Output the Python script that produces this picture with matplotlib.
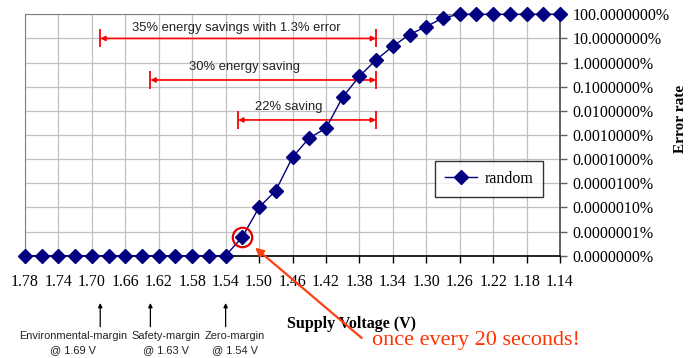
import matplotlib
matplotlib.use("Agg")
import matplotlib.pyplot as plt
import numpy as np
from matplotlib.ticker import FixedLocator, FuncFormatter

# supply voltage sweep and measured error rate (percent)
volts = [1.78, 1.76, 1.74, 1.72, 1.70, 1.68, 1.66, 1.64, 1.62, 1.60, 1.58,
         1.56, 1.54, 1.52, 1.50, 1.48, 1.46, 1.44, 1.42, 1.40, 1.38, 1.36,
         1.34, 1.32, 1.30, 1.28, 1.26, 1.24, 1.22, 1.20, 1.18, 1.16, 1.14]
err_pct = [0, 0, 0, 0, 0, 0, 0, 0, 0, 0, 0, 0, 0,
           6e-8, 1e-6, 5e-6, 1.2e-4, 7.5e-4, 1.9e-3, 0.037, 0.27, 1.3,
           4.7, 14.5, 31, 71, 100, 100, 100, 100, 100, 100, 100]

x_ticks = [1.78, 1.74, 1.70, 1.66, 1.62, 1.58, 1.54, 1.50, 1.46, 1.42,
           1.38, 1.34, 1.30, 1.26, 1.22, 1.18, 1.14]
y_ticks = [1e-8, 1e-7, 1e-6, 1e-5, 1e-4, 1e-3, 1e-2, 1e-1, 1, 10, 100]

# savings spans: (label, left V, right V, arrow level %, label V, label level %)
span_labels = ["35% energy savings with 1.3% error", "30% energy saving", "22% saving"]
span_left = [1.69, 1.63, 1.525]
span_right = [1.36, 1.36, 1.36]
span_level = [10, 0.19, 0.0042]
span_text_x = [1.5276, 1.517, 1.4644]
span_text_y = [27, 0.68, 0.0145]

margin_names = ["Environmental-margin\n@ 1.69 V", "Safety-margin\n@ 1.63 V", "Zero-margin\n@ 1.54 V"]
margin_volts = [1.69, 1.63, 1.54]
margin_text_x = [1.7226, 1.611, 1.529]

floor = 1e-8
err_plot = np.maximum(np.array(err_pct), floor)

serif = ["Liberation Serif", "DejaVu Serif"]
narrow = ["Liberation Sans Narrow", "Liberation Sans", "DejaVu Sans"]

fig = plt.figure(figsize=(6.94, 3.58), dpi=100)
ax = fig.add_axes([25 / 694, (358 - 255.7) / 358, 535 / 694, (255.7 - 14.3) / 358])

ax.plot(volts, err_plot, color="#000080", lw=1.0, marker="D", markersize=7,
        markerfacecolor="#000080", markeredgecolor="#000080", label="random",
        zorder=4, clip_on=False)

ax.set_yscale("log")
ax.set_ylim(floor, 100)
ax.set_xlim(1.78, 1.14)
ax.xaxis.set_major_locator(FixedLocator(x_ticks))
ax.xaxis.set_major_formatter(FuncFormatter(lambda v, p: f"{v:.2f}"))
ax.yaxis.set_major_locator(FixedLocator(y_ticks))
ax.yaxis.set_minor_locator(FixedLocator([]))
ax.yaxis.set_major_formatter(FuncFormatter(lambda v, p: f"{v:.7f}%"))
ax.yaxis.tick_right()

ax.grid(True, color="#c0c0c0", lw=0.9)
ax.set_axisbelow(True)

for lab in ax.get_xticklabels() + ax.get_yticklabels():
    lab.set_family(serif)
    lab.set_fontsize(11.5)
ax.tick_params(axis="x", direction="out", length=5, width=1, pad=8, color="black")
ax.tick_params(axis="y", direction="out", length=5, width=1, pad=4, color="#606060")

ax.spines["left"].set_color("#808080")
ax.spines["top"].set_color("#808080")
ax.spines["right"].set_color("#606060")
ax.spines["right"].set_linewidth(1.4)
ax.spines["bottom"].set_color("black")
ax.spines["bottom"].set_linewidth(1.2)

# red savings arrows
for lab, x0, x1, lv, tx, ty in zip(span_labels, span_left, span_right, span_level,
                                    span_text_x, span_text_y):
    ax.annotate("", xy=(x0, lv), xytext=(x1, lv),
                arrowprops=dict(arrowstyle="<|-|>", color="red", lw=1.2,
                                mutation_scale=7, shrinkA=0, shrinkB=0))
    ax.plot([x0, x1], [lv, lv], ls="none", marker="|", markersize=13,
            markeredgewidth=1.3, color="red", zorder=5)
    ax.text(tx, ty, lab, family=narrow, fontsize=9.4, color="#222222",
            ha="center", va="center")

# margin markers under the axis
xtrans = ax.get_xaxis_transform()
for name, mv, tx in zip(margin_names, margin_volts, margin_text_x):
    ax.annotate("", xy=(mv, -0.196), xytext=(mv, -0.294), xycoords=xtrans,
                textcoords=xtrans, annotation_clip=False,
                arrowprops=dict(arrowstyle="-|>", color="black", lw=0.9,
                                mutation_scale=6, shrinkA=0, shrinkB=0))
    ax.text(tx, -0.362, name, transform=xtrans, family=narrow, fontsize=7.9,
            color="#222222", ha="center", va="center", linespacing=1.45)

# highlight the first non-zero error
hx, hy = volts[13], err_plot[13]
ax.plot([hx], [hy], ls="none", marker="o", markersize=14, fillstyle="none",
        markeredgecolor="#e00000", markeredgewidth=1.6, zorder=6, clip_on=False)
ax.annotate("", xy=(hx, hy), xytext=(361.7, 358 - 338), textcoords="figure pixels",
            annotation_clip=False,
            arrowprops=dict(arrowstyle="-|>", color="#ff4010", lw=1.6,
                            mutation_scale=12, shrinkA=0, shrinkB=12))
fig.text(371.7 / 694, (358 - 340) / 358, "once every 20 seconds!", family=serif,
         fontsize=16, color="#ff3300", ha="left", va="center")

ax.set_xlabel("Supply Voltage (V)", family=serif, fontsize=11.5, fontweight="bold")
ax.xaxis.set_label_coords((351.7 - 25) / 535, (255.7 - 315.7) / 241.4)
fig.text(680 / 694, (358 - 118.5) / 358, "Error rate", family=serif, fontsize=11,
         fontweight="bold", rotation=90, ha="center", va="center")

leg = ax.legend(loc="center", bbox_to_anchor=(0.868, 0.318), frameon=True,
                fancybox=False, prop={"family": serif, "size": 11.5},
                handlelength=2.0, borderpad=0.6, handletextpad=0.5)
leg.get_frame().set_edgecolor("black")
leg.get_frame().set_linewidth(1.0)

fig.savefig("out.png", dpi=100)
